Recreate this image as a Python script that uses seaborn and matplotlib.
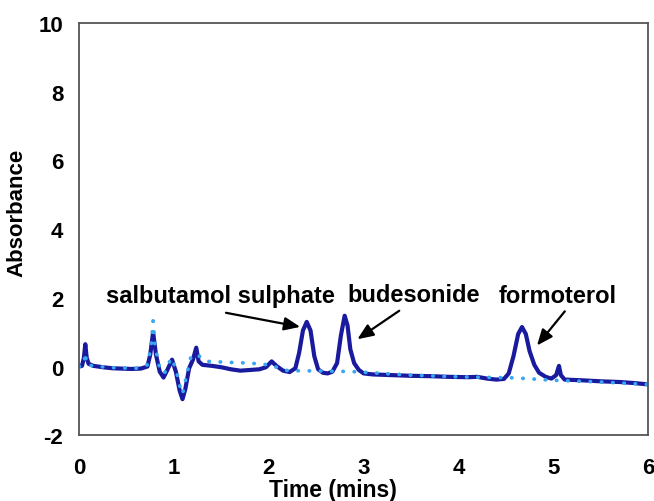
import matplotlib
matplotlib.use("Agg")
import matplotlib.pyplot as plt
import seaborn as sns
import pandas as pd

# ---- data ----
sample_time = [0.00, 0.03, 0.05, 0.065, 0.08, 0.10, 0.15, 0.25, 0.35, 0.45, 0.55, 0.65,
               0.72, 0.75, 0.78, 0.81, 0.85, 0.89, 0.93, 0.98, 1.02, 1.06, 1.09, 1.12,
               1.16, 1.20, 1.235, 1.26, 1.30, 1.40, 1.50, 1.60, 1.70, 1.80, 1.90, 1.97,
               2.03, 2.08, 2.15, 2.22, 2.28, 2.32, 2.36, 2.40, 2.44, 2.48, 2.52, 2.57,
               2.62, 2.67, 2.72, 2.76, 2.80, 2.83, 2.86, 2.90, 2.95, 3.00, 3.10, 3.30,
               3.50, 3.70, 3.90, 4.10, 4.20, 4.30, 4.40, 4.48, 4.53, 4.58, 4.63, 4.67,
               4.71, 4.75, 4.80, 4.85, 4.92, 4.98, 5.03, 5.06, 5.08, 5.12, 5.30, 5.50,
               5.70, 5.85, 6.00]
sample_abs = [0.00, 0.02, 0.25, 0.65, 0.25, 0.08, 0.02, -0.02, -0.05, -0.06, -0.07, -0.06,
              0.00, 0.35, 1.00, 0.35, -0.15, -0.32, -0.10, 0.20, -0.15, -0.70, -0.95, -0.65,
              -0.05, 0.20, 0.55, 0.15, 0.05, 0.02, -0.02, -0.08, -0.12, -0.10, -0.08, -0.02,
              0.15, 0.02, -0.12, -0.16, -0.05, 0.40, 1.05, 1.30, 1.05, 0.30, -0.08, -0.18,
              -0.20, -0.15, 0.10, 0.90, 1.48, 1.20, 0.50, 0.10, -0.10, -0.20, -0.23, -0.25,
              -0.27, -0.28, -0.30, -0.31, -0.30, -0.35, -0.38, -0.36, -0.20, 0.30, 0.95, 1.15,
              0.95, 0.45, 0.05, -0.18, -0.30, -0.35, -0.25, 0.02, -0.25, -0.38, -0.40, -0.43,
              -0.45, -0.48, -0.52]

blank_time = [0.00, 0.05, 0.065, 0.08, 0.20, 0.40, 0.60, 0.72, 0.76, 0.78, 0.80, 0.85,
              0.90, 0.97, 1.02, 1.06, 1.09, 1.13, 1.18, 1.24, 1.35, 1.60, 1.80, 2.00,
              2.20, 2.60, 2.90, 3.50, 4.00, 4.60, 5.00, 5.50, 6.00]
blank_abs = [0.00, 0.05, 0.40, 0.05, 0.00, -0.04, -0.05, 0.05, 0.60, 1.33, 0.60, -0.05,
             -0.20, 0.25, -0.05, -0.55, -0.80, -0.30, 0.30, 0.35, 0.15, 0.12, 0.10, 0.05,
             -0.12, -0.13, -0.15, -0.25, -0.30, -0.33, -0.40, -0.45, -0.52]

peak_labels = ["salbutamol sulphate", "budesonide", "formoterol"]
label_pos = [(1.49, 2.08), (3.53, 2.10), (5.05, 2.08)]
arrow_tail = [(1.52, 1.58), (3.40, 1.67), (5.14, 1.67)]
arrow_head = [(2.36, 1.14), (2.91, 0.75), (4.81, 0.55)]

x_ticks = [0, 1, 2, 3, 4, 5, 6]
y_ticks = [-2, 0, 2, 4, 6, 8, 10]

# ---- plot ----
sns.set_style("white")
plt.rcParams['font.family'] = ['Liberation Sans', 'DejaVu Sans']
plt.rcParams['text.color'] = 'black'

fig = plt.figure(figsize=(6.54, 5.02), dpi=100)
ax = fig.add_axes([0.121, 0.131, 0.870, 0.821])

sample_df = pd.DataFrame({"t": sample_time, "a": sample_abs})
blank_df = pd.DataFrame({"t": blank_time, "a": blank_abs})

sns.lineplot(data=sample_df, x="t", y="a", ax=ax, sort=False, estimator=None,
             color="#1a1a9e", linewidth=3.0)
sns.lineplot(data=blank_df, x="t", y="a", ax=ax, sort=False, estimator=None,
             color="#3aa6f2", linewidth=2.7, dashes=False)
ax.lines[-1].set_linestyle((0, (0.1, 2.9)))
ax.lines[-1].set_dash_capstyle("round")

ax.set_xlim(0, 6)
ax.set_ylim(-2, 10)
ax.set_xticks(x_ticks)
ax.set_yticks(y_ticks)
ax.set_xticklabels([str(v) for v in x_ticks], fontsize=16, fontweight="bold", color="black")
ax.set_yticklabels([str(v) for v in y_ticks], fontsize=16, fontweight="bold", color="black")
ax.tick_params(axis="both", direction="out", length=4.5, width=1.2, color="#555555")
ax.tick_params(axis="x", pad=11)
ax.tick_params(axis="y", pad=7)
for s in ax.spines.values():
    s.set_visible(True)
    s.set_color("#555555")
    s.set_linewidth(1.3)

ax.set_xlabel("Time (mins)", fontsize=16.5, fontweight="bold", color="black")
ax.set_ylabel("Absorbance", fontsize=16, fontweight="bold", color="black")
ax.xaxis.set_label_coords(0.4455, -0.103)
ax.yaxis.set_label_coords(-0.091, 0.541)

for lab, pos, tail, head in zip(peak_labels, label_pos, arrow_tail, arrow_head):
    ax.text(pos[0], pos[1], lab, ha="center", va="center", fontsize=17,
            fontweight="bold", color="black")
    ax.annotate("", xy=head, xytext=tail,
                arrowprops=dict(arrowstyle="-|>,head_length=0.6,head_width=0.25",
                                color="black", lw=1.6, mutation_scale=16))

fig.savefig("out.png", dpi=100)
